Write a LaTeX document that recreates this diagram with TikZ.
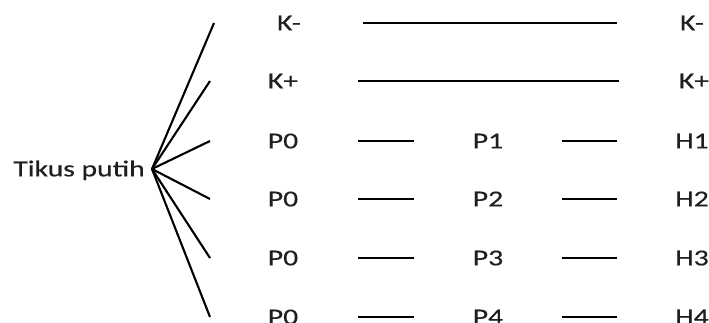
\documentclass[tikz,border=0pt]{standalone}
\usepackage{fontspec}
\setmainfont[FakeStretch=1.3, FakeBold=0.4]{Carlito}
\begin{document}
\begin{tikzpicture}[x=1pt,y=-1pt,
  lbl/.style={inner sep=0pt, text height=14.7pt, text depth=0pt, text=black!88,
    font=\fontsize{22.8}{26}\selectfont},
  wire/.style={line width=2.1pt, black}]
\useasboundingbox (0,0) rectangle (709,323);

% root
\node[lbl, anchor=east] (root) at (145,169) {Tikus putih};
\coordinate (hub) at (152,169);

% branch ends
\coordinate (b1) at (214,23);
\coordinate (b2) at (210,81);
\coordinate (b3) at (210,141);
\coordinate (b4) at (210,199);
\coordinate (b5) at (210,258);
\coordinate (b6) at (210,317);
\foreach \i in {1,...,6} \draw[wire] (hub) -- (b\i);

% first column
\node[lbl] (km) at (289,23) {K-};
\node[lbl] (kp) at (283,81) {K+};
\node[lbl] (a1) at (283,141) {P0};
\node[lbl] (a2) at (283,199) {P0};
\node[lbl] (a3) at (283,258) {P0};
\node[lbl] (a4) at (283,317) {P0};

% middle column
\node[lbl] (p1) at (488,141) {P1};
\node[lbl] (p2) at (488,199) {P2};
\node[lbl] (p3) at (488,258) {P3};
\node[lbl] (p4) at (488,317) {P4};

% last column
\node[lbl] (kmr) at (692,23) {K-};
\node[lbl] (kpr) at (694,81) {K+};
\node[lbl] (h1) at (692,141) {H1};
\node[lbl] (h2) at (692,199) {H2};
\node[lbl] (h3) at (692,258) {H3};
\node[lbl] (h4) at (692,317) {H4};

% control rows
\draw[wire, shorten <=62pt, shorten >=63pt] (km.east) -- (kmr.west);
\draw[wire, shorten <=60pt, shorten >=60pt] (kp.east) -- (kpr.west);

% treatment rows
\foreach \i in {1,...,4} {
  \draw[wire, shorten <=60pt, shorten >=59pt] (a\i.east) -- (p\i.west);
  \draw[wire, shorten <=59pt, shorten >=58pt] (p\i.east) -- (h\i.west);
}
\end{tikzpicture}
\end{document}
